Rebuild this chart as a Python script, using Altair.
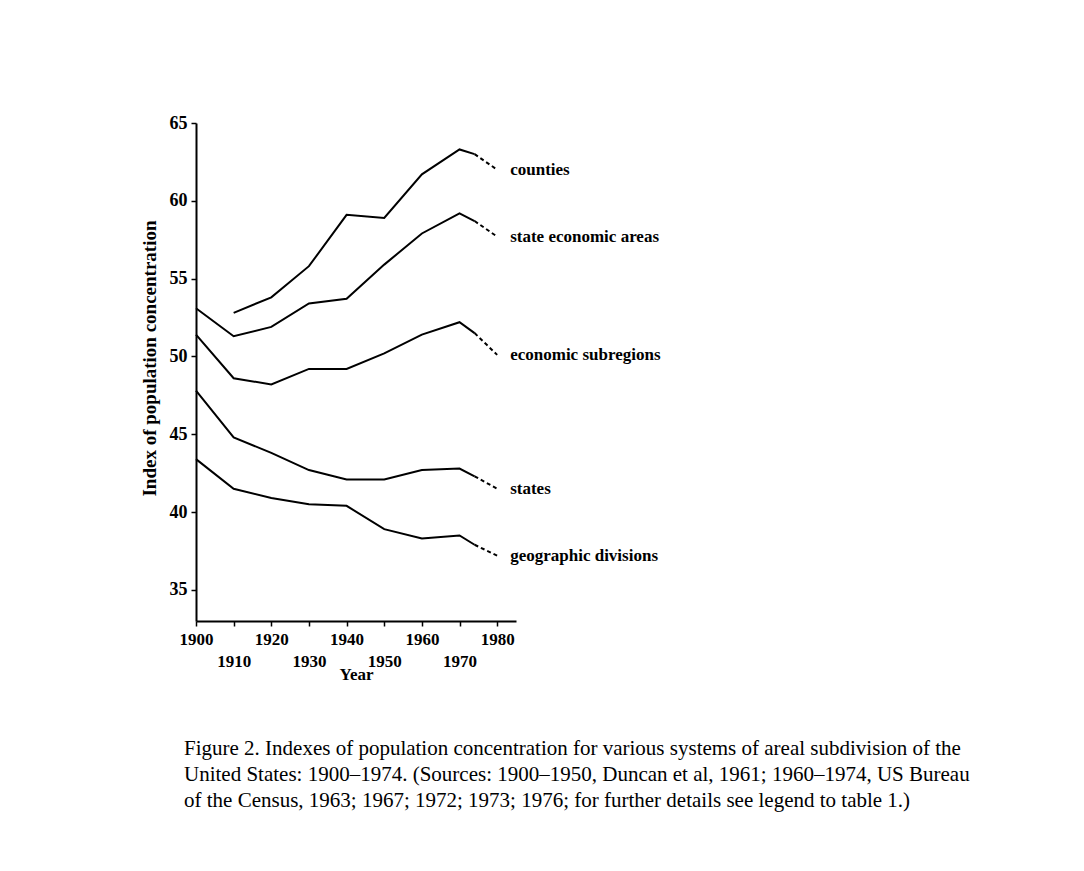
import altair as alt
import pandas as pd

# ---- data ----
years = [1900, 1910, 1920, 1930, 1940, 1950, 1960, 1970, 1974]
projection_year = 1980

series_names = ["counties", "state economic areas", "economic subregions",
                "states", "geographic divisions"]

counties = [None, 52.8, 53.8, 55.8, 59.1, 58.9, 61.7, 63.3, 63.0]
state_economic_areas = [53.1, 51.3, 51.9, 53.4, 53.7, 55.9, 57.9, 59.2, 58.7]
economic_subregions = [51.4, 48.6, 48.2, 49.2, 49.2, 50.2, 51.4, 52.2, 51.5]
states = [47.8, 44.8, 43.8, 42.7, 42.1, 42.1, 42.7, 42.8, 42.3]
geographic_divisions = [43.4, 41.5, 40.9, 40.5, 40.4, 38.9, 38.3, 38.5, 37.9]

projected_1980 = [62.0, 57.7, 50.1, 41.5, 37.2]

x_ticks = [1900, 1910, 1920, 1930, 1940, 1950, 1960, 1970, 1980]
y_ticks = [35, 40, 45, 50, 55, 60, 65]

caption = [
    "Figure 2.  Indexes of population concentration for various systems of areal subdivision of the",
    "United States:  1900\u20131974.  (Sources:  1900\u20131950, Duncan et al, 1961;  1960\u20131974, US Bureau",
    "of the Census, 1963;  1967;  1972;  1973;  1976;  for further details see legend to table 1.)",
]

# ---- build long table ----
all_series = [counties, state_economic_areas, economic_subregions, states, geographic_divisions]
rows = []
for name, vals, proj in zip(series_names, all_series, projected_1980):
    for yr, v in zip(years, vals):
        if v is not None:
            rows.append({"series": name, "year": yr, "value": v, "segment": "observed"})
    rows.append({"series": name, "year": years[-1], "value": vals[-1], "segment": "projected"})
    rows.append({"series": name, "year": projection_year, "value": proj, "segment": "projected"})
df = pd.DataFrame(rows)

SERIF = "Liberation Serif"

x_axis = alt.Axis(
    values=x_ticks, format="d", title="Year",
    labelOverlap=False, labelSeparation=-40, labelFlush=False,
    labelPadding={"condition": {"test": "datum.value % 20 == 10", "value": 27}, "value": 5},
    tickSize=5,
    labelFont=SERIF, labelFontSize=17, labelFontWeight="bold",
    titleFont=SERIF, titleFontSize=17, titleFontWeight="bold",
    titlePadding=-3,
)
x_scale = alt.Scale(domain=[1900, 1985], nice=False, zero=False)
y_axis = alt.Axis(
    values=y_ticks, title="Index of population concentration",
    tickSize=5, labelPadding=4,
    labelFont=SERIF, labelFontSize=18, labelFontWeight="bold",
    titleFont=SERIF, titleFontSize=19, titleFontWeight="bold",
    titleX=-47, titleY=235, titleAlign="center", titleBaseline="middle", titleAngle=-90,
)
y_scale = alt.Scale(domain=[33, 65], nice=False, zero=False)


def xy():
    return dict(
        x=alt.X("year:Q", scale=x_scale, axis=x_axis),
        y=alt.Y("value:Q", scale=y_scale, axis=y_axis),
    )


base = alt.Chart(df)

solid = base.transform_filter(alt.datum.segment == "observed").mark_line(
    color="black", strokeWidth=2
).encode(detail="series:N", **xy())

dashed = base.transform_filter(alt.datum.segment == "projected").mark_line(
    color="black", strokeWidth=2, strokeDash=[4, 3]
).encode(detail="series:N", **xy())

labels = base.transform_filter(
    (alt.datum.segment == "projected") & (alt.datum.year == projection_year)
).mark_text(
    align="left", baseline="middle", dx=13, font=SERIF, fontSize=17,
    fontWeight="bold", color="black"
).encode(text="series:N", **xy())

chart = alt.layer(solid, dashed, labels).properties(
    width=320,
    height=498,
    autosize=alt.AutoSizeParams(type="none"),
    padding={"left": 196, "top": 123, "right": 568, "bottom": 250},
    background="white",
    title=alt.TitleParams(
        text=caption, orient="bottom", anchor="start", frame="group",
        font=SERIF, fontSize=21, fontWeight="normal", lineHeight=26,
        color="black", offset=56, dx=-12,
    ),
).configure_view(strokeWidth=0).configure_axis(
    domainColor="black", domainWidth=2, tickColor="black", tickWidth=1.5,
    labelColor="black", titleColor="black", grid=False,
).configure_axisX(labelOverlap=False)

chart.save("out.html", embed_options={"renderer": "svg", "actions": False})
